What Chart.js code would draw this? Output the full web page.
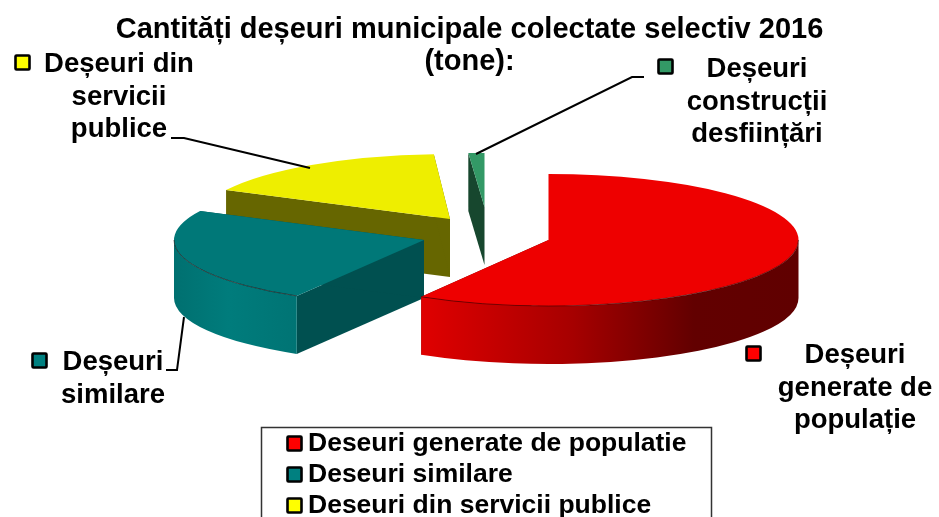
<!DOCTYPE html>
<html>
<head>
<meta charset="utf-8">
<style>
  html, body { margin: 0; padding: 0; background: #fff; overflow: hidden; }
  canvas { display: block; }
</style>
<script src="https://cdn.jsdelivr.net/npm/chart.js@4"></script>
</head>
<body>
<canvas id="grafic" width="939" height="517"></canvas>
<script>
const legendLabels = ['Deseuri generate de populatie', 'Deseuri similare', 'Deseuri din servicii publice', 'Deseuri constructii desfiintari'];
const tone = [58500, 23830, 16640, 1030];
const titleLines = ['Cantități deșeuri municipale colectate selectiv 2016', '(tone):'];
const redLabel = ['Deșeuri', 'generate de', 'populație'];
const tealLabel = ['Deșeuri', 'similare'];
const yellowLabel = ['Deșeuri din', 'servicii', 'publice'];
const greenLabel = ['Deșeuri', 'construcții', 'desființări'];

const FONT = '"Liberation Sans", Arial, sans-serif';
const topColors = ['#EE0000', '#007878', '#EEEE00', '#339966'];
const swatchColors = ['#FF0000', '#008080', '#FFFF00', '#339966'];
const cutColors = ['#660000', '#005050', '#666600', '#17472E'];

// exploded 3D look: where each slice apex lands + flattening
const RX = 250, DEPTH = 58;
const sliceView = [
    { x: 548.5, y: 240, ry: 66 },
    { x: 424, y: 240, ry: 65 },
    { x: 450, y: 219, ry: 65 },
    { x: 484.5, y: 207, ry: 54 }
];
const labelView = [
    { lines: redLabel, cx: 855, y: 363, box: [745, 345], leader: null },
    { lines: tealLabel, cx: 113, y: 370, box: [31, 352], leader: [[166, 370], [177, 370], [184, 317]] },
    { lines: yellowLabel, cx: 119, y: 72, box: [14, 54], leader: [[171, 138], [184, 138], [310, 168]] },
    { lines: greenLabel, cx: 757, y: 77, box: [657, 58], leader: [[644, 77], [632, 77], [476, 154]] }
];

function wallGradient(ctx, i) {
    var g;
    if (i == 0) {
        g = ctx.createLinearGradient(421, 0, 800, 0);
        g.addColorStop(0, '#E00000');
        g.addColorStop(0.4, '#A60000');
        g.addColorStop(0.72, '#620000');
        g.addColorStop(1, '#600000');
        return g;
    }
    g = ctx.createLinearGradient(174, 0, 296, 0);
    g.addColorStop(0, '#007070');
    g.addColorStop(0.45, '#007C7C');
    g.addColorStop(1, '#007474');
    return g;
}

function drawCut(ctx, v, angle, color) {
    var px = v.x + Math.cos(angle) * RX;
    var py = v.y + Math.sin(angle) * v.ry;
    ctx.beginPath();
    ctx.moveTo(v.x, v.y);
    ctx.lineTo(px, py);
    ctx.lineTo(px, py + DEPTH);
    ctx.lineTo(v.x, v.y + DEPTH);
    ctx.closePath();
    ctx.fillStyle = color;
    ctx.fill();
}

function drawSwatch(ctx, x, y, color) {
    ctx.fillStyle = color;
    ctx.strokeStyle = '#000';
    ctx.lineWidth = 2.6;
    ctx.beginPath();
    ctx.roundRect(x + 1.5, y + 1.5, 14, 14, 1);
    ctx.fill();
    ctx.stroke();
}

const pie3d = {
    id: 'pie3d',
    beforeDatasetsDraw(chart) {
        const ctx = chart.ctx;
        const arcs = chart.getDatasetMeta(0).data;
        // back to front
        [3, 2, 1, 0].forEach(i => {
            const arc = arcs[i];
            const v = sliceView[i];
            const start = arc.startAngle;
            const end = arc.endAngle;

            ctx.save();
            drawCut(ctx, v, start, cutColors[i]);
            drawCut(ctx, v, end, cutColors[i]);

            // rim wall, only the part facing the viewer
            const a0 = Math.max(start, 0);
            const a1 = Math.min(end, Math.PI);
            if (a1 > a0) {
                ctx.beginPath();
                ctx.ellipse(v.x, v.y, RX, v.ry, 0, a0, a1);
                ctx.ellipse(v.x, v.y + DEPTH, RX, v.ry, 0, a1, a0, true);
                ctx.closePath();
                ctx.fillStyle = wallGradient(ctx, i);
                ctx.fill();
            }

            // top face is the library's own arc, flattened
            ctx.save();
            ctx.translate(v.x, v.y);
            ctx.scale(RX / arc.outerRadius, v.ry / arc.outerRadius);
            ctx.translate(-arc.x, -arc.y);
            arc.draw(ctx);
            ctx.restore();

            // seam between top and wall
            if (a1 > a0) {
                ctx.beginPath();
                ctx.ellipse(v.x, v.y, RX, v.ry, 0, a0, a1);
                ctx.strokeStyle = 'rgba(40,0,0,0.55)';
                ctx.lineWidth = 1;
                ctx.stroke();
            }
            ctx.restore();
        });
        return false;
    },
    afterDraw(chart) {
        const ctx = chart.ctx;
        ctx.save();

        labelView.forEach((l, i) => {
            drawSwatch(ctx, l.box[0], l.box[1], swatchColors[i]);
            ctx.fillStyle = '#000';
            ctx.font = 'bold 27.5px ' + FONT;
            ctx.textAlign = 'center';
            ctx.textBaseline = 'alphabetic';
            l.lines.forEach((t, n) => ctx.fillText(t, l.cx, l.y + n * 32.5));
            if (l.leader) {
                ctx.beginPath();
                l.leader.forEach((p, n) => n ? ctx.lineTo(p[0], p[1]) : ctx.moveTo(p[0], p[1]));
                ctx.strokeStyle = '#000';
                ctx.lineWidth = 2;
                ctx.stroke();
            }
        });

        // legend box runs off the bottom of the picture
        ctx.strokeStyle = '#333';
        ctx.lineWidth = 1.5;
        ctx.strokeRect(261.5, 427.5, 450, 130);
        legendLabels.slice(0, 3).forEach((t, i) => {
            drawSwatch(ctx, 286, 435 + i * 31, swatchColors[i]);
            ctx.fillStyle = '#000';
            ctx.font = 'bold 26.5px ' + FONT;
            ctx.textAlign = 'left';
            ctx.fillText(t, 308, 451 + i * 31);
        });
        ctx.restore();
    }
};

new Chart(document.getElementById('grafic'), {
    type: 'pie',
    data: {
        labels: legendLabels,
        datasets: [{
            data: tone,
            backgroundColor: topColors,
            borderWidth: 0
        }]
    },
    options: {
        responsive: false,
        animation: false,
        plugins: {
            legend: { display: false },
            tooltip: { enabled: false },
            title: {
                display: true,
                text: titleLines,
                color: '#000',
                font: { family: FONT, size: 29, weight: 'bold', lineHeight: 1.1 },
                padding: { top: 14, bottom: 0 }
            }
        }
    },
    plugins: [pie3d]
});
</script>
</body>
</html>
